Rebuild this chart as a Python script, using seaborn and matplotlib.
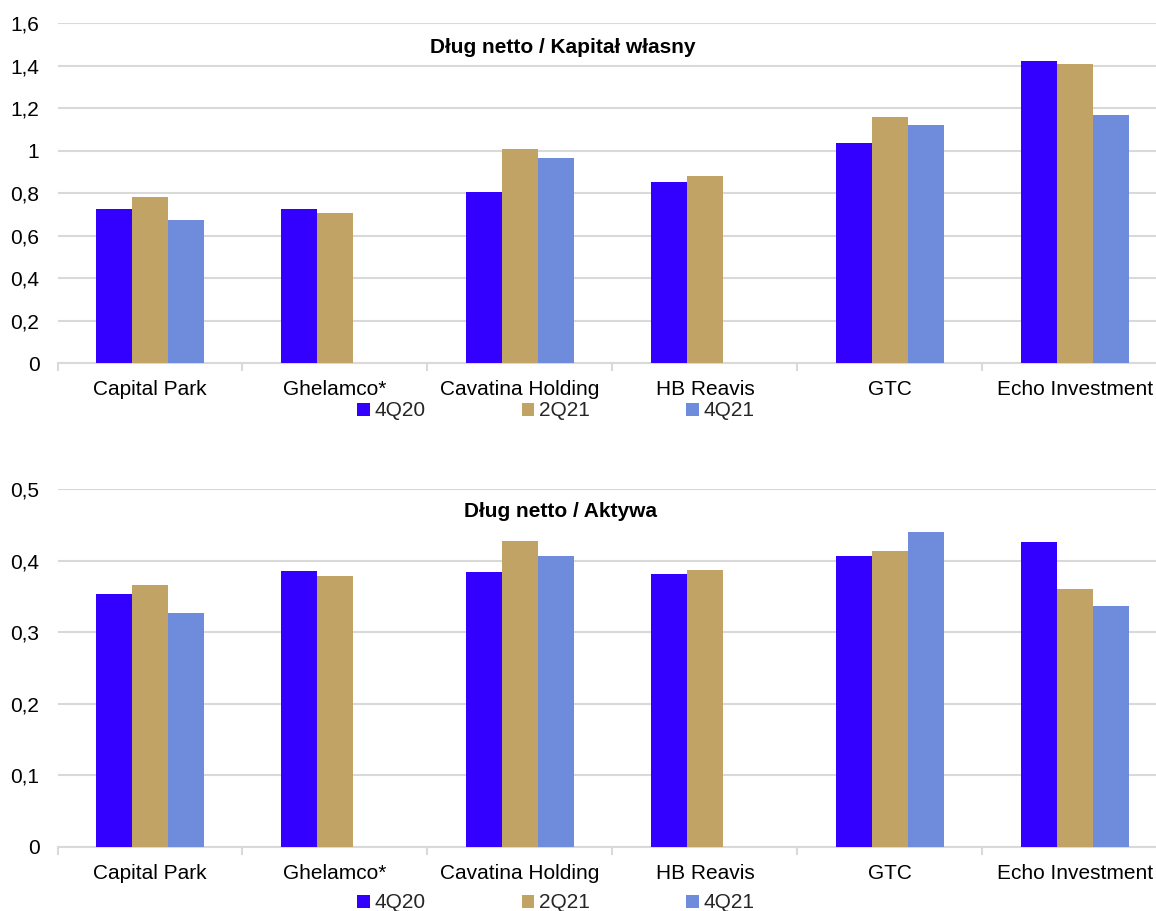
import numpy as np
import pandas as pd
import matplotlib
matplotlib.use("Agg")
import matplotlib.pyplot as plt
from matplotlib.patches import Patch
from matplotlib.ticker import FuncFormatter, FixedLocator
import seaborn as sns

# ---- data ----
companies = ["Capital Park", "Ghelamco*", "Cavatina Holding", "HB Reavis", "GTC", "Echo Investment"]
periods = ["4Q20", "2Q21", "4Q21"]

de_4q20 = [0.723, 0.727, 0.805, 0.852, 1.033, 1.423]
de_2q21 = [0.781, 0.705, 1.005, 0.879, 1.157, 1.406]
de_4q21 = [0.675, np.nan, 0.966, np.nan, 1.120, 1.168]

da_4q20 = [0.354, 0.386, 0.384, 0.381, 0.406, 0.426]
da_2q21 = [0.366, 0.378, 0.428, 0.387, 0.414, 0.360]
da_4q21 = [0.327, np.nan, 0.406, np.nan, 0.440, 0.337]

title_top = "Dług netto / Kapitał własny"
title_bottom = "Dług netto / Aktywa"

colors = ["#3300FF", "#C1A366", "#6F8BDB"]


def long_df(a, b, c):
    rows = []
    for series, vals in zip(periods, [a, b, c]):
        for comp, v in zip(companies, vals):
            rows.append({"company": comp, "period": series, "value": v})
    return pd.DataFrame(rows)


sns.set_theme(style="white")
plt.rcParams["font.family"] = ["Liberation Sans", "DejaVu Sans"]

W, H = 1156, 911
fig = plt.figure(figsize=(W / 100, H / 100), dpi=100)

left = 57.5 / W
width = 1110 / W
ax1 = fig.add_axes([left, 1 - 363 / H, width, 340 / H])
ax2 = fig.add_axes([left, 1 - 847 / H, width, 358 / H])

grid_c = "#D9D9D9"


def comma_fmt(x, pos):
    s = f"{x:.1f}"
    if s.endswith(".0"):
        s = s[:-2]
    return s.replace(".", ",")


def draw(ax, df, ymax, step, title, tx, ty):
    sns.barplot(data=df, x="company", y="value", hue="period", order=companies,
                hue_order=periods, palette=colors, width=0.58, saturation=1,
                gap=0, legend=False, ax=ax, zorder=3, linewidth=0)
    ax.set_ylim(0, ymax)
    ax.set_xlim(-0.5, len(companies) - 0.5)
    ax.yaxis.set_major_locator(FixedLocator(np.arange(0, ymax + step / 2, step)))
    ax.yaxis.set_major_formatter(FuncFormatter(comma_fmt))
    ax.grid(axis="y", color=grid_c, linewidth=1.5, zorder=0)
    ax.set_axisbelow(True)
    for s in ["top", "right", "left"]:
        ax.spines[s].set_visible(False)
    ax.spines["bottom"].set_color(grid_c)
    ax.spines["bottom"].set_linewidth(1.5)
    ax.set_xlabel("")
    ax.set_ylabel("")
    ax.tick_params(axis="y", length=0, labelsize=15, pad=13, colors="#000000")
    ax.tick_params(axis="x", which="major", length=0, labelsize=15, pad=12, colors="#000000")
    ax.set_xticks(np.arange(-0.5, len(companies), 1.0), minor=True)
    ax.tick_params(axis="x", which="minor", bottom=True, direction="out",
                   length=6, width=1.5, color=grid_c)
    ax.text(tx, ty, title, transform=ax.transAxes, ha="center", va="center",
            fontsize=15, fontweight="bold", color="#000000")


draw(ax1, long_df(de_4q20, de_2q21, de_4q21), 1.6, 0.2, title_top, 0.455, 0.928)
draw(ax2, long_df(da_4q20, da_2q21, da_4q21), 0.5, 0.1, title_bottom, 0.453, 0.936)

handles = [Patch(facecolor=c, edgecolor="none", label=p) for c, p in zip(colors, periods)]
for yc in [1 - 411 / H, 1 - 903 / H]:
    fig.legend(handles=handles, loc="center", bbox_to_anchor=(556 / W, yc), ncol=3,
               frameon=False, fontsize=15, handlelength=0.6, handleheight=0.6,
               handletextpad=0.25, columnspacing=4.6, borderpad=0, borderaxespad=0)

fig.savefig("out.png", dpi=100)
